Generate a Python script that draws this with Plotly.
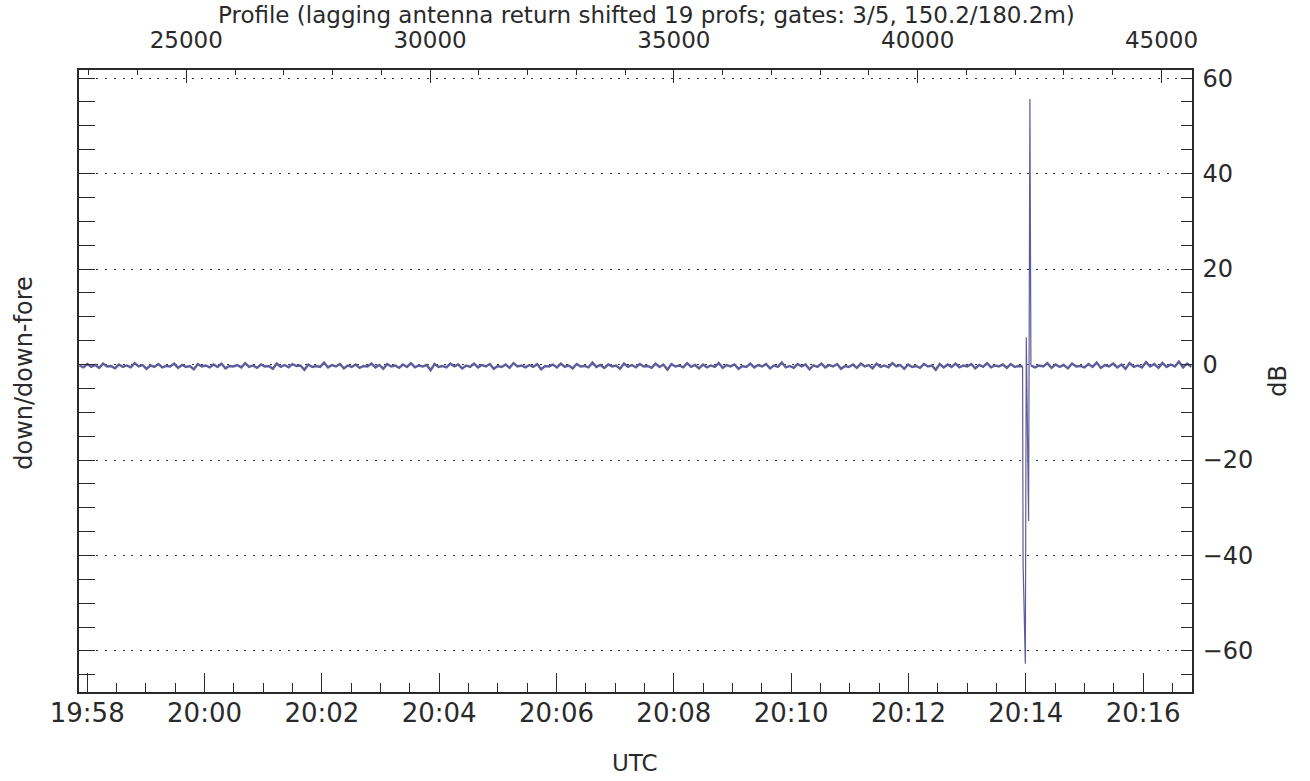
import numpy as np
import plotly.graph_objects as go

# ---------------- data ----------------
title_text = "Profile (lagging antenna return shifted 19 profs; gates: 3/5, 150.2/180.2m)"

# baseline ratio (dB) before the event, sampled evenly over profiles 22810..42140
noise_left = [
    -0.2,-0.6,0.1,-0.5,-0.1,-0.7,0.2,-0.4,-0.3,-0.8,0.0,-0.5,-0.2,-0.6,0.3,-0.4,-0.1,-0.9,-0.2,-0.5,
    0.1,-0.6,-0.3,-0.4,0.2,-0.7,-0.1,-0.5,-0.3,-1.0,0.1,-0.4,-0.2,-0.6,0.0,-0.5,0.2,-0.8,-0.3,-0.4,
    -0.1,-0.6,0.3,-0.5,-0.2,-0.7,0.0,-0.4,-0.3,-0.9,0.2,-0.5,-0.1,-0.6,0.1,-0.3,-0.2,-1.1,0.0,-0.5,
    -0.3,-0.5,0.4,-0.6,-0.1,-0.4,0.1,-0.8,-0.2,-0.5,0.0,-0.7,-0.3,-0.4,0.2,-0.6,-0.1,-0.9,0.1,-0.4,
    -0.2,-0.7,0.0,-0.5,0.3,-0.6,-0.2,-0.4,-0.1,-1.2,0.1,-0.5,-0.3,-0.6,0.2,-0.4,0.0,-0.8,-0.2,-0.5,
    0.2,-0.6,-0.1,-0.4,0.1,-0.9,-0.3,-0.5,0.0,-0.7,0.3,-0.4,-0.2,-0.6,-0.1,-0.5,0.1,-1.0,-0.3,-0.4,
    0.0,-0.6,0.2,-0.5,-0.2,-0.8,0.1,-0.4,-0.3,-0.6,0.4,-0.5,-0.1,-0.7,0.0,-0.4,-0.2,-0.9,0.2,-0.5,
    -0.1,-0.6,0.1,-0.4,-0.3,-0.7,0.2,-0.5,0.0,-1.1,0.1,-0.4,-0.2,-0.6,0.3,-0.5,-0.1,-0.8,0.0,-0.6,
    -0.2,-0.5,0.3,-0.7,-0.1,-0.4,0.0,-0.9,-0.3,-0.5,0.2,-0.6,-0.1,-0.4,0.1,-0.8,-0.2,-0.5,0.4,-0.6,
    -0.3,-0.7,0.1,-0.4,0.0,-1.0,-0.2,-0.5,0.2,-0.6,-0.1,-0.4,0.1,-0.9,-0.3,-0.5,0.0,-0.7,0.2,-0.4,
    -0.1,-0.8,0.2,-0.5,-0.2,-0.6,0.3,-0.4,-0.1,-0.9,0.0,-0.5,-0.3,-0.7,0.1,-0.4,-0.2,-1.1,0.1,-0.6,
    0.0,-0.5,0.2,-0.6,-0.2,-0.4,0.1,-0.8,-0.1,-0.5,0.3,-0.6,-0.2,-0.4,0.0,-0.7,0.1,-0.5,-0.3,-0.4,
]
noise_left_start, noise_left_end = 22810, 42151

# the event (profile number, dB)
event_prof = [42151, 42161, 42207, 42227, 42274, 42301, 42322]
event_db   = [-0.4, -41.7, -62.7, 5.7, -32.8, 55.6, -0.2]

# baseline after the event, sampled evenly over profiles 42322..45610
noise_right = [
    -0.2,-0.6,-0.2,-0.4,0.3,-0.7,0.0,-0.5,-0.1,-0.8,0.2,-0.4,-0.3,-0.6,0.1,-0.5,0.4,-0.7,-0.1,-0.4,
    0.2,-0.6,0.0,-0.9,0.3,-0.5,-0.2,-0.6,0.5,-0.4,0.1,-0.7,0.3,-0.5,0.0,-0.4,0.6,-0.6,0.2,-0.5,
]
noise_right_start, noise_right_end = 42322, 45610

prof_range = [22801, 45625]
time_range = ["2000-01-01 19:57:51.6", "2000-01-01 20:16:50.0"]
db_range = [-68.6, 61.7]

# ---------------- build ----------------
px_left = np.linspace(noise_left_start, noise_left_end, len(noise_left))
px_right = np.linspace(noise_right_start, noise_right_end, len(noise_right))

line_color = "#5d5d9c"
axis_color = "#2a2a2a"
font_fam = "DejaVu Sans"
txt_color = "#2a2a2a"

fig = go.Figure()
for xx, yy, w in [(list(px_left) + [event_prof[0]], noise_left + [event_db[0]], 2.4),
                  (event_prof, event_db, 1.2),
                  ([event_prof[-1]] + list(px_right), [event_db[-1]] + noise_right, 2.4)]:
    fig.add_trace(go.Scatter(x=xx, y=yy, xaxis="x2", yaxis="y", mode="lines",
                             line=dict(color=line_color, width=w), showlegend=False,
                             hoverinfo="skip"))
# empty traces so that the time axis and the left tick axis are drawn
fig.add_trace(go.Scatter(x=[], y=[], xaxis="x", yaxis="y", showlegend=False, hoverinfo="skip"))
fig.add_trace(go.Scatter(x=[], y=[], xaxis="x", yaxis="y2", showlegend=False, hoverinfo="skip"))

L, R, T, B = 78.7, 117.5, 69.5, 89.3
W, H = 1310, 781
pw, ph = W - L - R, H - T - B

def px2paper_x(p):
    return (p - L) / pw

def py2paper_y(p):
    return 1 - (p - T) / ph

fig.update_layout(
    width=W, height=H,
    margin=dict(l=L, r=R, t=T, b=B, pad=0),
    paper_bgcolor="white", plot_bgcolor="white",
    font=dict(family=font_fam, color=txt_color),
    xaxis=dict(
        type="date", range=time_range, side="bottom", anchor="y",
        tickformat="%H:%M", dtick=120000, tick0="2000-01-01 19:58:00",
        ticks="inside", ticklen=19, tickwidth=1.2, tickcolor=axis_color,
        minor=dict(dtick=30000, tick0="2000-01-01 19:58:00", ticks="inside",
                   ticklen=9, tickwidth=1.2, tickcolor=axis_color, showgrid=False),
        showline=True, linecolor=axis_color, linewidth=1.5,
        showgrid=False, zeroline=False,
        tickfont=dict(size=26, family=font_fam, color=txt_color),
        ticklabelstandoff=-3,
    ),
    xaxis2=dict(
        range=prof_range, overlaying="x", side="top", anchor="y",
        tickmode="linear", tick0=25000, dtick=5000,
        ticks="inside", ticklen=13, tickwidth=1.2, tickcolor=axis_color,
        minor=dict(dtick=1000, tick0=25000, ticks="inside", ticklen=5,
                   tickwidth=1.2, tickcolor=axis_color, showgrid=False),
        showline=True, linecolor=axis_color, linewidth=1.5,
        showgrid=False, zeroline=False, tickformat="d",
        tickfont=dict(size=23, family=font_fam, color=txt_color),
        ticklabelstandoff=11,
    ),
    yaxis=dict(
        range=db_range, side="right", anchor="x",
        tickmode="linear", tick0=0, dtick=20,
        ticks="inside", ticklen=11, tickwidth=1.2, tickcolor=axis_color,
        minor=dict(dtick=5, tick0=0, ticks="inside", ticklen=11,
                   tickwidth=1.2, tickcolor=axis_color, showgrid=False),
        showline=True, linecolor=axis_color, linewidth=1.5,
        showgrid=True, gridcolor="#333333", gridwidth=1, griddash="2px,6.7px",
        zeroline=False,
        tickfont=dict(size=24, family=font_fam, color=txt_color),
        ticklabelstandoff=4,
    ),
    yaxis2=dict(
        range=db_range, side="left", overlaying="y", anchor="x",
        tickmode="linear", tick0=0, dtick=5,
        ticks="inside", ticklen=16, tickwidth=1.2, tickcolor=axis_color,
        showticklabels=False,
        showline=True, linecolor=axis_color, linewidth=1.5,
        showgrid=False, zeroline=False,
    ),
    annotations=[
        dict(text=title_text, xref="paper", yref="paper",
             x=px2paper_x(647), y=py2paper_y(14), xanchor="center", yanchor="middle",
             showarrow=False, font=dict(size=23, family=font_fam, color=txt_color)),
        dict(text="UTC", xref="paper", yref="paper",
             x=px2paper_x(635), y=py2paper_y(763), xanchor="center", yanchor="middle",
             showarrow=False, font=dict(size=23, family=font_fam, color=txt_color)),
        dict(text="down/down-fore", xref="paper", yref="paper", textangle=-90,
             x=px2paper_x(24), y=py2paper_y(372), xanchor="center", yanchor="middle",
             showarrow=False, font=dict(size=24, family=font_fam, color=txt_color)),
        dict(text="dB", xref="paper", yref="paper", textangle=-90,
             x=px2paper_x(1279), y=py2paper_y(380), xanchor="center", yanchor="middle",
             showarrow=False, font=dict(size=24, family=font_fam, color=txt_color)),
    ],
)

fig.write_html("out.html", config={"displayModeBar": False},
               post_script="document.body.style.margin='0';")
